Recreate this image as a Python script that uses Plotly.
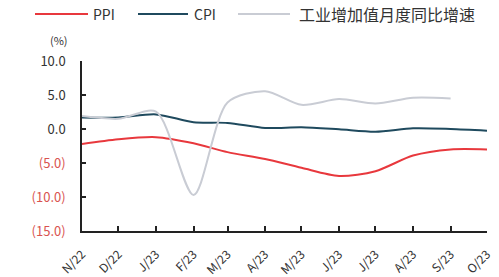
import plotly.graph_objects as go

months = ["2022-11-01", "2022-12-01", "2023-01-01", "2023-02-01", "2023-03-01", "2023-04-01",
          "2023-05-01", "2023-06-01", "2023-07-01", "2023-08-01", "2023-09-01", "2023-10-01"]
tick_labels = ["N/22", "D/22", "J/23", "F/23", "M/23", "A/23", "M/23", "J/23", "J/23", "A/23", "S/23", "O/23"]

ppi = [-2.2, -1.5, -1.2, -2.1, -3.4, -4.4, -5.7, -6.9, -6.2, -3.9, -3.0, -3.0]
cpi = [1.7, 1.7, 2.15, 1.0, 0.9, 0.15, 0.25, -0.05, -0.4, 0.1, 0.0, -0.25]
ind = [1.9, 1.5, 2.55, -9.7, 3.9, 5.55, 3.55, 4.4, 3.75, 4.6, 4.5]

series_names = ["PPI", "CPI", "工业增加值月度同比增速"]
series_colors = ["#e8383d", "#1f4a5e", "#c9ccd4"]

y_vals = [10, 5, 0, -5, -10, -15]
y_text = ["10.0", "5.0", "0.0",
          "<span style='color:#d9534f'>(5.0)</span>",
          "<span style='color:#d9534f'>(10.0)</span>",
          "<span style='color:#d9534f'>(15.0)</span>"]

FONT = "Noto Sans CJK SC"
W, H = 499, 277
ML, MR, MT, MB = 82, 12, 61, 46
PW, PH = W - ML - MR, H - MT - MB


def px(x):
    return (x - ML) / PW


def py(y):
    return (H - MB - y) / PH


fig = go.Figure()
for name, vals, col in zip(series_names, [ppi, cpi, ind], series_colors):
    fig.add_trace(go.Scatter(x=months[:len(vals)], y=vals, name=name, mode="lines",
                             line=dict(color=col, width=2, shape="spline", smoothing=0.8)))

# manual legend (line sample + label) across the top
legend_pos = [(35, 88, 91), (138, 188, 192), (238, 290, 297)]
legend_sizes = [14, 14, 16]
shapes, annots = [], []
for (x0, x1, xt), name, col, fs in zip(legend_pos, series_names, series_colors, legend_sizes):
    shapes.append(dict(type="line", xref="paper", yref="paper",
                       x0=px(x0), x1=px(x1), y0=py(14), y1=py(14),
                       line=dict(color=col, width=2)))
    annots.append(dict(text=name, xref="paper", yref="paper", x=px(xt), y=py(14),
                       xanchor="left", yanchor="middle", showarrow=False,
                       font=dict(size=fs, family=FONT, color="#333333")))

annots.append(dict(text="(%)", xref="paper", yref="paper", x=px(70), y=py(50),
                   xanchor="right", yanchor="bottom", showarrow=False,
                   font=dict(size=11, family=FONT, color="#333333")))

fig.update_layout(
    width=W, height=H,
    margin=dict(l=ML, r=MR, t=MT, b=MB),
    paper_bgcolor="white", plot_bgcolor="white",
    font=dict(family=FONT, color="#333333", size=12),
    showlegend=False,
    xaxis=dict(type="date", range=["2022-11-01", "2023-10-01"], automargin=False,
               tickvals=months, ticktext=tick_labels, tickangle=-45,
               ticks="inside", ticklen=5, tickcolor="#222", tickwidth=1.5,
               showline=True, linecolor="#222", linewidth=1.5,
               showgrid=False, zeroline=False, ticklabelstandoff=10,
               tickfont=dict(size=12, family=FONT, color="#333333")),
    yaxis=dict(range=[-15, 10], tickvals=y_vals, ticktext=y_text, automargin=False,
               ticks="inside", ticklen=4, tickcolor="#222", tickwidth=1.5,
               showline=True, linecolor="#222", linewidth=1.5,
               showgrid=False, zeroline=False, ticklabelstandoff=12,
               tickfont=dict(size=13, family=FONT, color="#333333")),
    shapes=shapes,
    annotations=annots,
)

fig.write_html("out.html", config={"displayModeBar": False},
               post_script="document.body.style.margin='0';document.body.style.overflow='hidden';")
